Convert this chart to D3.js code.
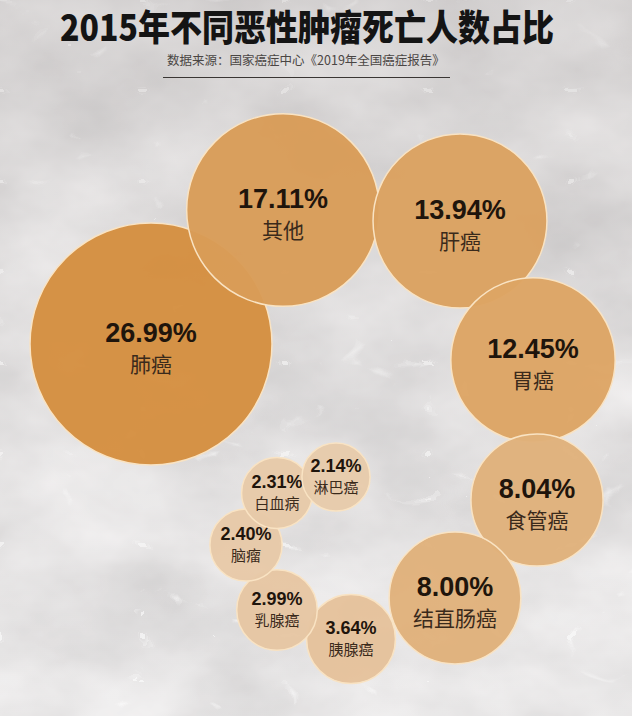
<!DOCTYPE html>
<html>
<head>
<meta charset="utf-8">
<script src="https://cdn.jsdelivr.net/npm/d3@7"></script>
<style>
  html, body { margin: 0; padding: 0; background: #d2cecc; }
  svg { display: block; }
</style>
</head>
<body>
<div id="chart"></div>
<script>
// ---------------- data ----------------
const title = "2015年不同恶性肿瘤死亡人数占比";
const subtitle = "数据来源：国家癌症中心《2019年全国癌症报告》";
const categories = ["肺癌", "其他", "肝癌", "胃癌", "食管癌", "结直肠癌", "胰腺癌", "乳腺癌", "脑瘤", "白血病", "淋巴癌"];
const shares = [26.99, 17.11, 13.94, 12.45, 8.04, 8.00, 3.64, 2.99, 2.40, 2.31, 2.14];

// ---------------- layout (bubble anchors, px) ----------------
const anchors = [
  [151, 344], [283, 210], [460, 221], [533, 360], [537, 500],
  [455, 598], [351, 639], [277, 610], [246, 545], [277, 493], [336, 477]
];

const W = 632, H = 716;
const svg = d3.select("#chart").append("svg")
  .attr("width", W).attr("height", H)
  .attr("viewBox", `0 0 ${W} ${H}`);

// marble background via SVG filters
const defs = svg.append("defs");
const f = defs.append("filter").attr("id", "marble")
  .attr("filterUnits", "userSpaceOnUse")
  .attr("x", 0).attr("y", 0).attr("width", W).attr("height", H);
f.append("feTurbulence").attr("type", "fractalNoise")
  .attr("baseFrequency", "0.006 0.009").attr("numOctaves", 5).attr("seed", 7).attr("result", "noise");
f.append("feColorMatrix").attr("in", "noise").attr("type", "matrix")
  .attr("values", "0.4 0 0 0 0.6  0.4 0 0 0 0.588  0.4 0 0 0 0.59  0 0 0 0 1")
  .attr("result", "base");
f.append("feTurbulence").attr("type", "turbulence")
  .attr("baseFrequency", "0.007 0.011").attr("numOctaves", 3).attr("seed", 13).attr("result", "turb");
f.append("feColorMatrix").attr("in", "turb").attr("type", "matrix")
  .attr("values", "0 0 0 0 1  0 0 0 0 1  0 0 0 0 1  -9 0 0 0 0.6")
  .attr("result", "veins");
f.append("feGaussianBlur").attr("in", "veins").attr("stdDeviation", 0.5).attr("result", "veinsB");
const merge = f.append("feMerge");
merge.append("feMergeNode").attr("in", "base");
merge.append("feMergeNode").attr("in", "veinsB");

const grad = defs.append("linearGradient").attr("id", "shade")
  .attr("x1", 0).attr("y1", 0).attr("x2", 0).attr("y2", 1);
grad.append("stop").attr("offset", "0%").attr("stop-color", "#7a7270").attr("stop-opacity", 0.18);
grad.append("stop").attr("offset", "50%").attr("stop-color", "#7a7270").attr("stop-opacity", 0.06);
grad.append("stop").attr("offset", "100%").attr("stop-color", "#ffffff").attr("stop-opacity", 0.08);

svg.append("rect").attr("width", W).attr("height", H).attr("fill", "#d2cecc");
svg.append("rect").attr("width", W).attr("height", H).attr("filter", "url(#marble)");
svg.append("rect").attr("width", W).attr("height", H).attr("fill", "url(#shade)");

// title block
svg.append("text")
  .attr("x", 307).attr("y", 41)
  .attr("text-anchor", "middle")
  .attr("font-family", "'Noto Sans CJK SC', 'Noto Sans', sans-serif")
  .attr("font-weight", 900)
  .attr("font-size", 36)
  .attr("textLength", 494)
  .attr("lengthAdjust", "spacingAndGlyphs")
  .attr("fill", "#141414")
  .text(title);

svg.append("text")
  .attr("x", 306).attr("y", 65)
  .attr("text-anchor", "middle")
  .attr("font-family", "'Noto Sans CJK SC', sans-serif")
  .attr("font-size", 12.5)
  .attr("fill", "#4a4644")
  .text(subtitle);

svg.append("line")
  .attr("x1", 163).attr("x2", 450).attr("y1", 77.5).attr("y2", 77.5)
  .attr("stroke", "#3a3634").attr("stroke-width", 1);

// scales
const r = d3.scaleSqrt().domain([0, d3.max(shares)]).range([0, 121]);
const color = d3.scaleLinear()
  .domain([r(d3.min(shares)), 80, r(d3.max(shares))])
  .range(["#e7cbab", "#dda566", "#d48f40"]);
const fmt = d3.format(".2f");

const data = categories.map((c, i) => ({
  name: c, value: shares[i], x: anchors[i][0], y: anchors[i][1]
}));

const g = svg.append("g");
const nodes = g.selectAll("g.bubble")
  .data(data)
  .join("g")
  .attr("class", "bubble")
  .attr("transform", d => `translate(${d.x},${d.y})`);

nodes.append("circle")
  .attr("r", d => r(d.value))
  .attr("fill", d => color(r(d.value)))
  .attr("fill-opacity", 0.96)
  .attr("stroke", "#f9e3c3")
  .attr("stroke-width", 1.5);

nodes.append("text")
  .attr("text-anchor", "middle")
  .attr("y", d => r(d.value) > 55 ? -2 : -5)
  .attr("font-family", "'Liberation Sans', Arial, sans-serif")
  .attr("font-weight", "bold")
  .attr("font-size", d => r(d.value) > 55 ? 27 : 18)
  .attr("fill", "#1f150c")
  .text(d => fmt(d.value) + "%");

nodes.append("text")
  .attr("text-anchor", "middle")
  .attr("y", d => r(d.value) > 55 ? 28 : 16)
  .attr("font-family", "'Noto Sans CJK SC', sans-serif")
  .attr("font-size", d => r(d.value) > 55 ? 21 : 15)
  .attr("fill", "#3a2a1b")
  .text(d => d.name);
</script>
</body>
</html>
